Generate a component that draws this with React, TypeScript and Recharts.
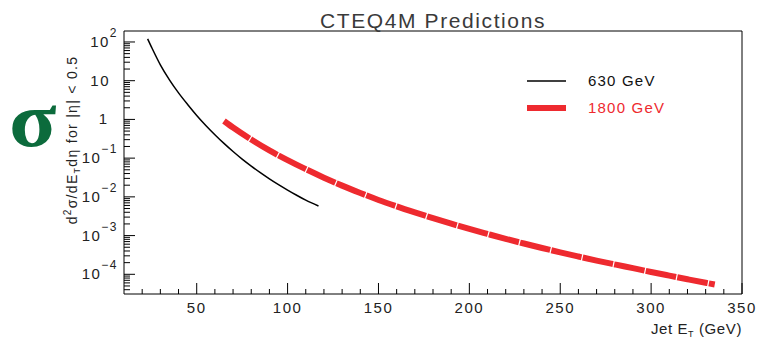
import * as React from 'react'
import { LineChart, Line, XAxis, YAxis, ReferenceLine } from 'recharts'

// Jet E_T (GeV) and d2sigma/dE_T deta
const et630 = [23, 25, 30, 35, 40, 45, 50, 55, 60, 65, 70, 75, 80, 85, 90, 95, 100, 105, 110, 117]
const sigma630 = [
  120, 76, 25.7, 10.5, 4.84, 2.43, 1.27, 0.7, 0.403, 0.24, 0.148, 0.0944, 0.0624, 0.0422, 0.0292, 0.0207, 0.015,
  0.011, 0.0082, 0.0058,
]

const et1800 = [
  65, 70, 80, 90, 100, 110, 120, 130, 140, 150, 160, 170, 180, 190, 200, 210, 220, 230, 240, 250, 260, 270, 280,
  290, 300, 310, 320, 330, 335,
]
const sigma1800 = [
  0.912, 0.617, 0.302, 0.158, 0.0891, 0.0519, 0.0313, 0.0195, 0.0126, 0.00832, 0.00569, 0.00398, 0.00282,
  0.00203, 0.00148, 0.0011, 0.000822, 0.000624, 0.000478, 0.000369, 0.000288, 0.000226, 0.00018, 0.000144,
  0.000115, 0.0000925, 0.0000746, 0.0000604, 0.0000545,
]

const xMinorTicks = [20, 30, 40, 50, 60, 70, 80, 90, 100, 110, 120, 130, 140, 150, 160, 170, 180, 190, 200, 210, 220, 230, 240, 250, 260, 270, 280, 290, 300, 310, 320, 330, 340, 350]
const xLabels = [50, 100, 150, 200, 250, 300, 350]
const yDecades = [-5, -4, -3, -2, -1, 0, 1, 2]
const yMultipliers = [1, 2, 3, 4, 5, 6, 7, 8, 9]

const X_DOMAIN: [number, number] = [10, 350]
const Y_DOMAIN: [number, number] = [3.1e-5, 192]

const RED = '#ee2a2f'
const FONT = '"Liberation Sans", Arial, sans-serif'

const data630 = et630.map((x, i) => ({ x, y: sigma630[i] }))
const data1800 = et1800.map((x, i) => ({ x, y: sigma1800[i] }))

const yTicks: number[] = []
yDecades.forEach((d) =>
  yMultipliers.forEach((m) => {
    const v = m * Math.pow(10, d)
    if (v >= Y_DOMAIN[0] && v <= Y_DOMAIN[1]) yTicks.push(Number(v.toPrecision(3)))
  })
)

function XTick(props: any) {
  const { x, y, payload } = props
  const v = payload.value
  const major = xLabels.includes(v)
  return (
    <g>
      <line x1={x} x2={x} y1={y} y2={y - (major ? 11 : 5)} stroke="#000" strokeWidth={1} />
      {major && (
        <text x={x} y={y + 19} textAnchor="middle" fontSize={15} fill="#222" fontFamily={FONT} letterSpacing={1.5}>
          {v}
        </text>
      )}
    </g>
  )
}

function YTick(props: any) {
  const { x, y, payload } = props
  const v = payload.value
  const e = Math.round(Math.log10(v))
  const major = Math.abs(v / Math.pow(10, e) - 1) < 1e-6
  let label: React.ReactNode = null
  if (major) {
    if (e === 0) {
      label = (
        <text x={x - 17} y={y + 5} textAnchor="end" fontSize={15} fill="#222" fontFamily={FONT}>
          1
        </text>
      )
    } else if (e === 1) {
      label = (
        <text x={x - 14} y={y + 5} textAnchor="end" fontSize={15} fill="#222" fontFamily={FONT} letterSpacing={1.5}>
          10
        </text>
      )
    } else {
      label = (
        <text x={x - 6} y={y + 5} textAnchor="end" fontSize={15} fill="#222" fontFamily={FONT} letterSpacing={1.5}>
          10
          <tspan dy={-10} fontSize={12}>
            {e < 0 ? '\u2212' + Math.abs(e) : e}
          </tspan>
        </text>
      )
    }
  }
  return (
    <g>
      <line x1={x} x2={x + (major ? 11 : 6)} y1={y} y2={y} stroke="#000" strokeWidth={1} />
      {label}
    </g>
  )
}

function Overlay() {
  return (
    <svg
      width={757}
      height={343}
      style={{ position: 'absolute', left: 0, top: 0, pointerEvents: 'none' }}
      fontFamily={FONT}
    >
      <text x={433} y={28} textAnchor="middle" fontSize={21} fill="#3a3a3a" letterSpacing={1.6}>
        CTEQ4M Predictions
      </text>
      <text
        transform="translate(9,146) scale(1.12,1)"
        fontSize={78}
        fontWeight="bold"
        fill="#0c6b3c"
        fontFamily='"Liberation Serif", "DejaVu Serif", serif'
      >
        σ
      </text>
      <text
        transform="translate(77,140) rotate(-90)"
        textAnchor="middle"
        fontSize={14}
        fill="#222"
        letterSpacing={1.3}
      >
        d<tspan dy={-6} fontSize={10}>2</tspan>
        <tspan dy={6}>σ/dE</tspan>
        <tspan dy={3} fontSize={9}>T</tspan>
        <tspan dy={-3}>dη for |η| &lt; 0.5</tspan>
      </text>
      <text x={742} y={334} textAnchor="end" fontSize={15} fill="#222" letterSpacing={0.6}>
        Jet E<tspan dy={3} fontSize={9}>T</tspan>
        <tspan dy={-3}> (GeV)</tspan>
      </text>
      <line x1={527} x2={566} y1={81} y2={81} stroke="#000" strokeWidth={1.5} />
      <text x={588} y={86} fontSize={15} fill="#111" letterSpacing={1.2}>
        630 GeV
      </text>
      <line x1={527} x2={566} y1={108} y2={108} stroke={RED} strokeWidth={6} />
      <text x={588} y={113} fontSize={15} fill={RED} letterSpacing={1.2}>
        1800 GeV
      </text>
    </svg>
  )
}

export default function App() {
  return (
    <div style={{ position: 'absolute', left: 0, top: 0, width: 757, height: 343, background: '#fff' }}>
      <LineChart width={757} height={343} margin={{ top: 31, right: 15, bottom: 0, left: 0 }}>
        <XAxis
          type="number"
          dataKey="x"
          domain={X_DOMAIN}
          ticks={xMinorTicks}
          allowDataOverflow
          height={49}
          tickSize={0}
          tickMargin={0}
          tickLine={false}
          axisLine={{ stroke: '#000' }}
          tick={<XTick />}
          interval={0}
        />
        <YAxis
          type="number"
          scale="log"
          domain={Y_DOMAIN}
          ticks={yTicks}
          allowDataOverflow
          width={124}
          tickSize={0}
          tickMargin={0}
          tickLine={false}
          axisLine={{ stroke: '#000' }}
          tick={<YTick />}
          interval={0}
        />
        <ReferenceLine y={Y_DOMAIN[1]} stroke="#000" />
        <ReferenceLine x={X_DOMAIN[1]} stroke="#000" />
        <Line
          data={data630}
          dataKey="y"
          type="monotone"
          stroke="#000"
          strokeWidth={1.5}
          dot={false}
          isAnimationActive={false}
        />
        <Line
          data={data1800}
          dataKey="y"
          type="monotone"
          stroke={RED}
          strokeWidth={6}
          strokeDasharray="31 1.2"
          dot={false}
          isAnimationActive={false}
        />
      </LineChart>
      <Overlay />
    </div>
  )
}
